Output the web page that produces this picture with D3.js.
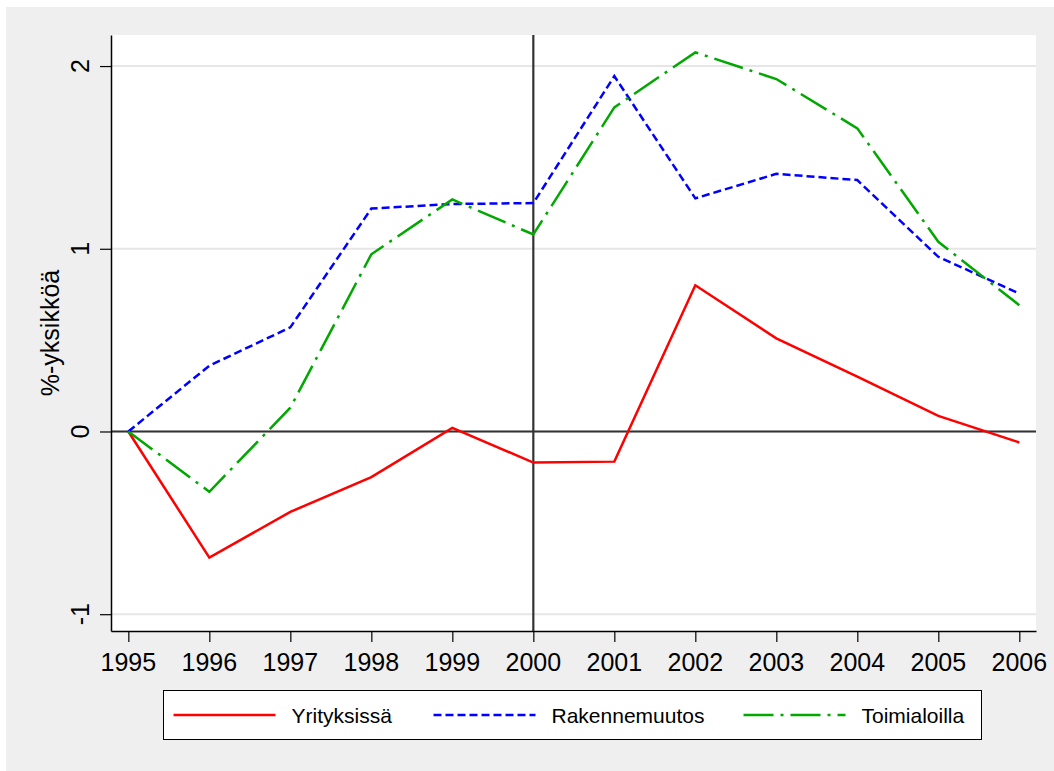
<!DOCTYPE html>
<html>
<head>
<meta charset="utf-8">
<script src="https://cdn.jsdelivr.net/npm/d3@7"></script>
<style>
  body { margin: 0; background: #fff; }
  svg { display: block; font-family: 'Liberation Sans', Arial, sans-serif; }
</style>
</head>
<body>
<svg width="1054" height="771"></svg>
<script>
// data
const years = [1995, 1996, 1997, 1998, 1999, 2000, 2001, 2002, 2003, 2004, 2005, 2006];
const yrityksissa = [0, -0.69, -0.44, -0.25, 0.02, -0.17, -0.165, 0.80, 0.51, 0.30, 0.085, -0.06];
const rakennemuutos = [0, 0.36, 0.57, 1.22, 1.245, 1.25, 1.945, 1.276, 1.41, 1.376, 0.956, 0.755];
const toimialoilla = [0, -0.33, 0.13, 0.97, 1.27, 1.078, 1.774, 2.075, 1.929, 1.659, 1.038, 0.691];
const yTicks = [-1, 0, 1, 2];
const yTickLabels = ['-1', '0', '1', '2'];
const seriesNames = ['Yrityksissä', 'Rakennemuutos', 'Toimialoilla'];
const yTitle = '%-yksikköä';

const svg = d3.select('svg');
const width = +svg.attr('width');
const height = +svg.attr('height');

const margin = { top: 35, right: 18, bottom: 140, left: 111 };
const innerWidth = width - margin.left - margin.right;
const innerHeight = height - margin.top - margin.bottom;

// background, stata style
svg.append('rect').attr('width', width).attr('height', height).attr('fill', '#fff');
svg.append('rect').attr('x', 6).attr('y', 7)
  .attr('width', width - 6).attr('height', height - 7).attr('fill', '#efefef');

const xScale = d3.scaleLinear()
  .domain([1994.786, 2006.206])
  .range([0, innerWidth]);

const yScale = d3.scaleLinear()
  .domain([-1.092, 2.17])
  .range([innerHeight, 0]);

const g = svg.append('g')
  .attr('transform', `translate(${margin.left},${margin.top})`);

g.append('rect').attr('width', innerWidth).attr('height', innerHeight).attr('fill', '#fff');

// gridlines
g.selectAll('.grid').data(yTicks).enter().append('line')
  .attr('x1', 0).attr('x2', innerWidth)
  .attr('y1', d => yScale(d)).attr('y2', d => yScale(d))
  .attr('stroke', '#e6e6e6').attr('stroke-width', 2);

// reference lines at 0 and 2000
g.append('line')
  .attr('x1', 0).attr('x2', innerWidth)
  .attr('y1', yScale(0)).attr('y2', yScale(0))
  .attr('stroke', '#333').attr('stroke-width', 2.2);
g.append('line')
  .attr('x1', xScale(2000)).attr('x2', xScale(2000))
  .attr('y1', 0).attr('y2', innerHeight)
  .attr('stroke', '#333').attr('stroke-width', 2.2);

// axes (lines and ticks), labels drawn below
const xAxisG = g.append('g')
  .attr('transform', `translate(0,${innerHeight})`)
  .call(d3.axisBottom(xScale).tickValues(years).tickFormat('').tickSize(11).tickSizeOuter(0));
xAxisG.select('.domain').attr('stroke', '#000').attr('stroke-width', 1.5);
xAxisG.selectAll('.tick line').attr('stroke', '#000').attr('stroke-width', 1.2);
xAxisG.selectAll('.tick text').remove();

const yAxisG = g.append('g')
  .call(d3.axisLeft(yScale).tickValues(yTicks).tickFormat('').tickSize(11).tickSizeOuter(0));
yAxisG.select('.domain').attr('stroke', '#000').attr('stroke-width', 1.5);
yAxisG.selectAll('.tick line').attr('stroke', '#000').attr('stroke-width', 1.2);
yAxisG.selectAll('.tick text').remove();

// tick labels
svg.selectAll('.xlabel').data(years).enter().append('text')
  .attr('class', 'xlabel')
  .attr('x', d => margin.left + xScale(d))
  .attr('y', margin.top + innerHeight + 40)
  .attr('text-anchor', 'middle')
  .attr('font-size', 25)
  .text(d => d);

svg.selectAll('.ylabel').data(yTicks).enter().append('text')
  .attr('class', 'ylabel')
  .attr('transform', d => `translate(${margin.left - 22},${margin.top + yScale(d)}) rotate(-90)`)
  .attr('text-anchor', 'middle')
  .attr('font-size', 25)
  .text((d, i) => yTickLabels[i]);

// y title
svg.append('text')
  .attr('transform', `translate(59,${margin.top + innerHeight / 2}) rotate(-90)`)
  .attr('text-anchor', 'middle')
  .attr('font-size', 25)
  .text(yTitle);

// lines
const series = [
  { name: seriesNames[0], values: yrityksissa, color: '#ff0000', dash: null },
  { name: seriesNames[1], values: rakennemuutos, color: '#0000ff', dash: '8,4' },
  { name: seriesNames[2], values: toimialoilla, color: '#00a800', dash: '30,7,3,7' }
];

const line = d3.line()
  .x((d, i) => xScale(years[i]))
  .y(d => yScale(d));

g.selectAll('.series').data(series).enter().append('path')
  .attr('d', d => line(d.values))
  .attr('fill', 'none')
  .attr('stroke', d => d.color)
  .attr('stroke-width', 2.5)
  .attr('stroke-dasharray', d => d.dash);

// legend
const legend = svg.append('g').attr('transform', 'translate(163.5,690.5)');
legend.append('rect')
  .attr('width', 818).attr('height', 49)
  .attr('fill', '#fff').attr('stroke', '#000').attr('stroke-width', 1);

const legendX = [10, 270, 580];
const item = legend.selectAll('.item').data(series).enter().append('g')
  .attr('transform', (d, i) => `translate(${legendX[i]},24.5)`);
item.append('line')
  .attr('x1', 0).attr('x2', 102)
  .attr('stroke', d => d.color).attr('stroke-width', 2.5)
  .attr('stroke-dasharray', d => d.dash);
item.append('text')
  .attr('x', 118).attr('y', 8)
  .attr('font-size', 21)
  .text(d => d.name);
</script>
</body>
</html>
